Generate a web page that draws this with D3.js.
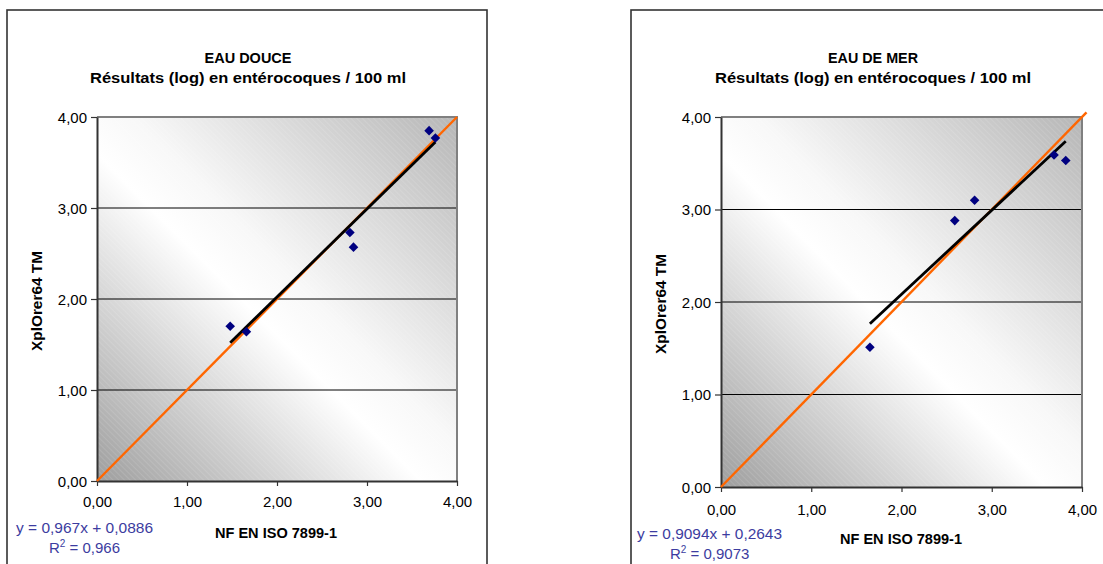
<!DOCTYPE html>
<html>
<head>
<meta charset="utf-8">
<script src="https://cdn.jsdelivr.net/npm/d3@7"></script>
<style>
  html, body { margin: 0; padding: 0; background: #ffffff; }
  svg { display: block; font-family: "Liberation Sans", Arial, sans-serif; }
</style>
</head>
<body>
<svg id="chart" width="1103" height="564"></svg>
<script>
// ---------- DATA ----------
const axisTicks = [0, 1, 2, 3, 4];
const tickLabels = ["0,00", "1,00", "2,00", "3,00", "4,00"];
const gridValues = [1, 2, 3];

const freshTitle = "EAU DOUCE";
const seaTitle = "EAU DE MER";
const subTitle = "Résultats (log) en entérocoques / 100 ml";
const xAxisLabel = "NF EN ISO 7899-1";
const yAxisLabel = "XplOrer64 TM";

const freshX = [1.48, 1.66, 2.81, 2.85, 3.69, 3.76];
const freshY = [1.70, 1.64, 2.73, 2.57, 3.85, 3.77];
const freshSlope = 0.967;
const freshIntercept = 0.0886;
const freshEquation = "y = 0,967x + 0,0886";
const freshR2 = "0,966";
const freshIdentity = [0, 4.0];

const seaX = [1.65, 2.59, 2.81, 3.69, 3.82];
const seaY = [1.51, 2.88, 3.10, 3.59, 3.53];
const seaSlope = 0.9094;
const seaIntercept = 0.2643;
const seaEquation = "y = 0,9094x + 0,2643";
const seaR2 = "0,9073";
const seaIdentity = [0, 4.05];

// ---------- DRAW ----------
const svg = d3.select("#chart");
const defs = svg.append("defs");

const hatch = defs.append("pattern")
  .attr("id", "hatch")
  .attr("patternUnits", "userSpaceOnUse")
  .attr("width", 4).attr("height", 4)
  .attr("patternTransform", "rotate(-45)");
hatch.append("line")
  .attr("x1", 0).attr("y1", 0).attr("x2", 0).attr("y2", 4)
  .attr("stroke", "#ffffff").attr("stroke-opacity", 0.22).attr("stroke-width", 1);

function drawChart(cfg) {
  const g = svg.append("g");

  // outer frame
  g.append("rect")
    .attr("x", cfg.frame[0]).attr("y", cfg.frame[1])
    .attr("width", cfg.frame[2]).attr("height", cfg.frame[3])
    .attr("fill", "none").attr("stroke", "#333").attr("stroke-width", 1.6);

  const x = d3.scaleLinear().domain([0, 4]).range([cfg.left, cfg.right]);
  const y = d3.scaleLinear().domain([0, 4]).range([cfg.bottom, cfg.top]);

  const grad = defs.append("linearGradient")
    .attr("id", "bg" + cfg.id)
    .attr("x1", 0).attr("y1", 1).attr("x2", 1).attr("y2", 0);
  grad.append("stop").attr("offset", 0).attr("stop-color", "#9e9e9e");
  grad.append("stop").attr("offset", 0.45).attr("stop-color", "#ffffff");
  grad.append("stop").attr("offset", 0.55).attr("stop-color", "#f8f8f8");
  grad.append("stop").attr("offset", 1).attr("stop-color", "#b6b6b6");

  const pw = cfg.right - cfg.left, ph = cfg.bottom - cfg.top;
  g.append("rect").attr("x", cfg.left).attr("y", cfg.top)
    .attr("width", pw).attr("height", ph).attr("fill", "url(#bg" + cfg.id + ")");
  g.append("rect").attr("x", cfg.left).attr("y", cfg.top)
    .attr("width", pw).attr("height", ph).attr("fill", "url(#hatch)");

  // gridlines
  g.selectAll(".grid").data(gridValues).enter().append("line")
    .attr("x1", cfg.left).attr("x2", cfg.right)
    .attr("y1", d => y(d)).attr("y2", d => y(d))
    .attr("stroke", "#000").attr("stroke-width", 1);

  // plot border top/right (gray)
  g.append("path")
    .attr("d", `M${cfg.left},${cfg.top}H${cfg.right}V${cfg.bottom}`)
    .attr("fill", "none").attr("stroke", "#808080").attr("stroke-width", 2);

  // axes
  const xAxis = d3.axisBottom(x).tickValues(axisTicks)
    .tickFormat((d, i) => tickLabels[i]).tickSize(5).tickSizeOuter(0);
  const yAxis = d3.axisLeft(y).tickValues(axisTicks)
    .tickFormat((d, i) => tickLabels[i]).tickSize(6).tickSizeOuter(0);

  const gx = g.append("g").attr("transform", `translate(0,${cfg.bottom})`).call(xAxis);
  const gy = g.append("g").attr("transform", `translate(${cfg.left},0)`).call(yAxis);
  [gx, gy].forEach(a => {
    a.select(".domain").attr("stroke", "#333").attr("stroke-width", 2);
    a.selectAll(".tick line").attr("stroke", "#333").attr("stroke-width", 1.2);
    a.selectAll("text").attr("fill", "#000").attr("font-size", 15)
      .attr("font-family", "Liberation Sans, Arial, sans-serif");
  });
  gx.selectAll("text").attr("y", cfg.xLabelDy).attr("dy", 0);
  gy.selectAll("text").attr("x", -10).attr("dy", "0.35em");

  // identity line
  g.append("line")
    .attr("x1", x(cfg.identity[0])).attr("y1", y(cfg.identity[0]))
    .attr("x2", x(cfg.identity[1])).attr("y2", y(cfg.identity[1]))
    .attr("stroke", "#ff6600").attr("stroke-width", 2.4);

  // trend line
  const xmin = d3.min(cfg.xs), xmax = d3.max(cfg.xs);
  g.append("line")
    .attr("x1", x(xmin)).attr("y1", y(cfg.slope * xmin + cfg.intercept))
    .attr("x2", x(xmax)).attr("y2", y(cfg.slope * xmax + cfg.intercept))
    .attr("stroke", "#000").attr("stroke-width", 2.8);

  // points
  const pts = cfg.xs.map((v, i) => [v, cfg.ys[i]]);
  g.selectAll(".pt").data(pts).enter().append("path")
    .attr("d", d3.symbol().type(d3.symbolSquare).size(46))
    .attr("transform", d => `translate(${x(d[0])},${y(d[1])}) rotate(45)`)
    .attr("fill", "#000080");

  // titles
  g.append("text").attr("x", cfg.titleX).attr("y", 63)
    .attr("text-anchor", "middle").attr("font-weight", "bold").attr("font-size", 14)
    .attr("textLength", cfg.titleLen).attr("lengthAdjust", "spacingAndGlyphs")
    .text(cfg.title);
  g.append("text").attr("x", cfg.titleX).attr("y", 83)
    .attr("text-anchor", "middle").attr("font-weight", "bold").attr("font-size", 14)
    .attr("textLength", 316).attr("lengthAdjust", "spacingAndGlyphs")
    .text(subTitle);

  // axis titles
  g.append("text").attr("x", cfg.xTitleX).attr("y", cfg.xTitleY)
    .attr("text-anchor", "middle").attr("font-weight", "bold").attr("font-size", 14)
    .attr("textLength", 122).attr("lengthAdjust", "spacingAndGlyphs")
    .text(xAxisLabel);
  g.append("text")
    .attr("transform", `translate(${cfg.yTitleX},${cfg.yTitleY}) rotate(-90)`)
    .attr("text-anchor", "middle").attr("font-weight", "bold").attr("font-size", 15)
    .attr("textLength", 100).attr("lengthAdjust", "spacingAndGlyphs")
    .text(yAxisLabel);

  // equation
  g.append("text").attr("x", cfg.eqX).attr("y", cfg.eqY)
    .attr("fill", "#3c3ca0").attr("font-size", 15)
    .attr("textLength", cfg.eqLen).attr("lengthAdjust", "spacingAndGlyphs")
    .text(cfg.equation);
  const r = g.append("text").attr("x", cfg.eqX + 33).attr("y", cfg.eqY + 20)
    .attr("fill", "#3c3ca0").attr("font-size", 15);
  r.append("tspan").text("R");
  r.append("tspan").attr("font-size", 10).attr("dy", -6).text("2");
  r.append("tspan").attr("dy", 6).text(" = " + cfg.r2);
}

drawChart({
  id: "fresh", frame: [7, 10, 480, 600],
  left: 97, right: 457, top: 117, bottom: 481,
  xs: freshX, ys: freshY, slope: freshSlope, intercept: freshIntercept,
  identity: freshIdentity, title: freshTitle, titleX: 248, titleLen: 87,
  xLabelDy: 26, xTitleX: 276, xTitleY: 538, yTitleX: 42, yTitleY: 301,
  eqX: 16, eqY: 533, eqLen: 137, equation: freshEquation, r2: freshR2
});

drawChart({
  id: "sea", frame: [631, 10, 500, 600],
  left: 721, right: 1082, top: 117, bottom: 487,
  xs: seaX, ys: seaY, slope: seaSlope, intercept: seaIntercept,
  identity: seaIdentity, title: seaTitle, titleX: 873, titleLen: 90,
  xLabelDy: 28, xTitleX: 901, xTitleY: 544, yTitleX: 666, yTitleY: 304,
  eqX: 637, eqY: 539, eqLen: 145, equation: seaEquation, r2: seaR2
});
</script>
</body>
</html>
